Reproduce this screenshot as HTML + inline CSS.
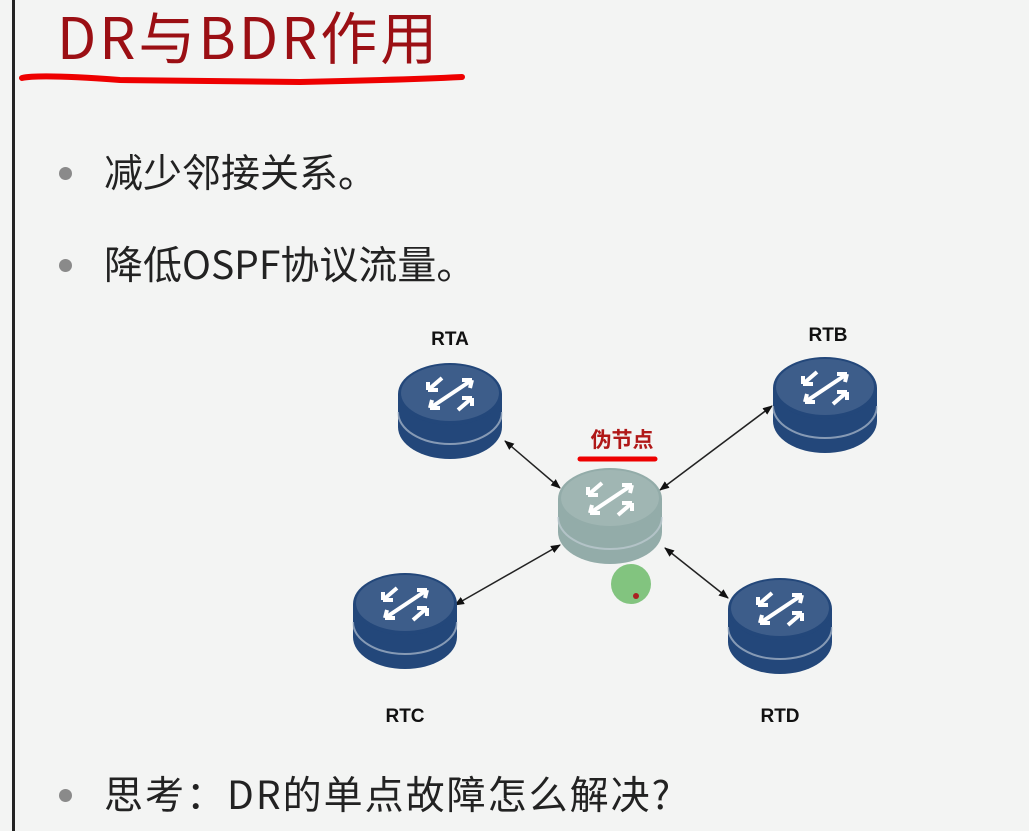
<!DOCTYPE html>
<html><head><meta charset="utf-8"><style>
body{margin:0;width:1029px;height:831px;background:#f3f4f3;position:relative;overflow:hidden;font-family:"Noto Sans CJK SC","Liberation Sans",sans-serif}
.t{position:absolute;white-space:nowrap;line-height:1}
.b{position:absolute;width:13px;height:13px;border-radius:50%;background:#8a8a8a}
</style></head><body>
<div style="position:absolute;left:12px;top:0;width:3px;height:831px;background:#222"></div>
<div class="t" style="left:57px;top:7px;font-size:57px;letter-spacing:3px;color:#9b0f14">DR与BDR作用</div>
<svg width="1029" height="831" style="position:absolute;left:0;top:0">
<defs>
<g id="r">
<path d="M-52,0 L-52,33 A52,32 0 0 0 52,33 L52,0 Z" fill="currentColor"/>
<path d="M-52,18 A52,32 0 0 0 52,18" fill="none" stroke="#c8d2dc" stroke-width="2" opacity=".6"/>
<ellipse cx="0" cy="0" rx="52" ry="31" fill="currentColor"/>
<ellipse cx="0" cy="-1" rx="49" ry="28" fill="#fff" opacity=".12"/>
<g stroke="#fff" stroke-width="4" fill="none">
<path d="M-22,-4 L-8,-16 M-22,-4 l10,0 M-22,-4 l0,-8"/>
<path d="M22,4 L8,16 M22,4 l-10,0 M22,4 l0,8"/>
<path d="M-20,14 L22,-14 M22,-14 l-10,0 M22,-14 l-2,8"/>
<path d="M-20,14 l10,0 M-20,14 l2,-8"/>
</g>
</g>
<marker id="a" markerWidth="10" markerHeight="10" refX="9" refY="5" orient="auto-start-reverse" markerUnits="userSpaceOnUse"><path d="M0,1 L10,5 L0,9 Z" fill="#111"/></marker>
</defs>
<path d="M22,78 Q40,74 120,80 L300,82 Q400,80 462,77" stroke="#e00" stroke-width="6" fill="none" stroke-linecap="round"/>
<g stroke="#222" stroke-width="1.5" marker-start="url(#a)" marker-end="url(#a)">
<line x1="505" y1="441" x2="560" y2="488"/>
<line x1="772" y1="406" x2="660" y2="490"/>
<line x1="455" y1="605" x2="560" y2="545"/>
<line x1="665" y1="548" x2="728" y2="598"/>
</g>
<use href="#r" x="450" y="394" style="color:#23477a"/>
<use href="#r" x="825" y="388" style="color:#23477a"/>
<use href="#r" x="405" y="604" style="color:#23477a"/>
<use href="#r" x="780" y="609" style="color:#23477a"/>
<use href="#r" x="610" y="499" style="color:#93aca9"/>
<circle cx="631" cy="584" r="20" fill="#6dbb6a" opacity=".85"/>
<circle cx="636" cy="596" r="3" fill="#a22"/>
<path d="M580,459 L655,459" stroke="#e00" stroke-width="5" stroke-linecap="round"/>
<g font-family="Liberation Sans,sans-serif" font-weight="bold" font-size="19" fill="#111" text-anchor="middle">
<text x="450" y="345">RTA</text><text x="828" y="341">RTB</text>
<text x="405" y="722">RTC</text><text x="780" y="722">RTD</text>
</g>
<text x="622" y="447" text-anchor="middle" font-family="Noto Sans CJK SC,sans-serif" font-weight="bold" font-size="21" fill="#b01818">伪节点</text>
</svg>
<div class="b" style="left:59px;top:167px"></div>
<div class="t" style="left:104px;top:152px;font-size:39px;color:#222">减少邻接关系。</div>
<div class="b" style="left:59px;top:259px"></div>
<div class="t" style="left:104px;top:244px;font-size:39px;color:#222">降低OSPF协议流量。</div>
<div class="b" style="left:59px;top:789px"></div>
<div class="t" style="left:104px;top:774px;font-size:39px;letter-spacing:2px;color:#222">思考：DR的单点故障怎么解决?</div>
</body></html>
